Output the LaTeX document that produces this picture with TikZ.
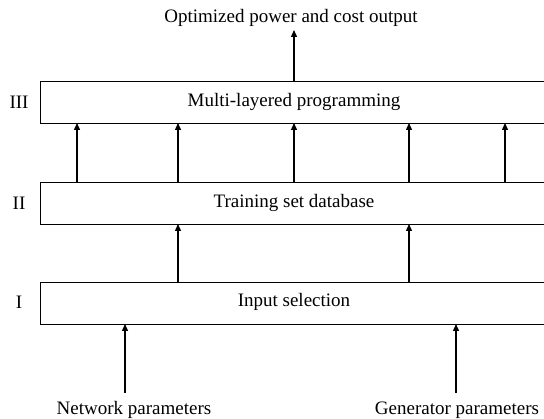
\documentclass[tikz,border=0pt]{standalone}
\usepackage{fontspec}
\setmainfont{Liberation Serif}
\usetikzlibrary{arrows.meta}
\begin{document}
\begin{tikzpicture}[x=1pt,y=-1pt,
  layer/.style={draw,line width=1.3pt,minimum height=42pt,minimum width=540pt,anchor=north west,inner sep=0pt},
  lab/.style={font=\fontsize{19}{21}\selectfont,inner sep=0pt},
  arr/.style={line width=1.3pt,-{Triangle[length=7pt,width=6pt]}}]
\useasboundingbox (0,0) rectangle (544,419);
\node[layer] (L3) at (40,81) {};
\node[layer] (L2) at (40,182) {};
\node[layer] (L1) at (40,282) {};
\node[lab] (t3) at (294,102) {Multi-layered programming};
\node[lab] (t2) at (294,203) {Training set database};
\node[lab] (t1) at (294,302) {Input selection};
\node[lab] (r3) at (19,102) {III};
\node[lab] (r2) at (19,203) {II};
\node[lab] (r1) at (19,302) {I};
\node[lab] (out) at (291,18) {Optimized power and cost output};
\node[lab] (net) at (134,410) {Network parameters};
\node[lab] (gen) at (457,410) {Generator parameters};
\coordinate (o1) at (294,30);
\draw[arr] (294,81) -- (o1);
\foreach \x in {77,178,294,409,505} {
  \draw[arr] (\x,182) -- (\x,123);
}
\foreach \x in {178,409} {
  \draw[arr] (\x,282) -- (\x,224);
}
\coordinate (n1) at (125,393);
\coordinate (g1) at (456,393);
\draw[arr] (n1) -- (125,324);
\draw[arr] (g1) -- (456,324);
\end{tikzpicture}
\end{document}
